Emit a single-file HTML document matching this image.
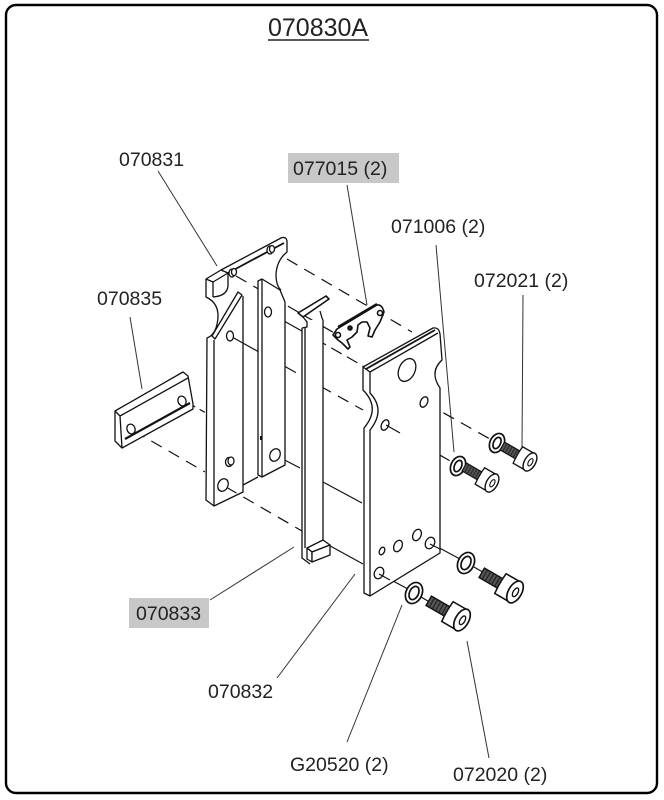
<!DOCTYPE html>
<html><head><meta charset="utf-8"><style>
html,body{margin:0;padding:0;background:#fff;}
svg{display:block;}
text{font-family:"Liberation Sans",Arial,sans-serif;fill:#222;}
</style></head><body>
<svg width="664" height="800" viewBox="0 0 664 800" xmlns="http://www.w3.org/2000/svg">
<rect x="6" y="5" width="651" height="788" rx="10" ry="10" fill="#fff" stroke="#000" stroke-width="2.4"/>

<!-- title -->
<text x="268" y="36" font-size="25">070830A</text>
<line x1="268" y1="40" x2="369" y2="40" stroke="#222" stroke-width="1.6"/>

<!-- label boxes -->
<rect x="288" y="153" width="111" height="30" fill="#c8c8c8"/>
<rect x="129" y="598" width="80" height="30" fill="#c8c8c8"/>

<!-- labels -->
<g font-size="19.5">
<text x="119" y="166">070831</text>
<text x="293" y="175">077015 (2)</text>
<text x="391" y="233">071006 (2)</text>
<text x="474" y="287">072021 (2)</text>
<text x="97" y="305">070835</text>
<text x="136" y="620">070833</text>
<text x="208" y="698">070832</text>
<text x="290" y="771">G20520 (2)</text>
<text x="453" y="781">072020 (2)</text>
</g>

<!-- leader lines -->
<g stroke="#333" stroke-width="1" fill="none">
<line x1="158" y1="171" x2="217" y2="266"/>
<line x1="347" y1="185" x2="367" y2="305"/>
<line x1="436" y1="245" x2="454" y2="452"/>
<line x1="523" y1="295" x2="522" y2="450"/>
<line x1="130" y1="317" x2="142" y2="389"/>
<line x1="210" y1="600" x2="294" y2="547"/>
<line x1="277" y1="678" x2="355" y2="574"/>
<line x1="347" y1="742" x2="402" y2="605"/>
<line x1="489" y1="758" x2="467" y2="641"/>
</g>

<!-- axis / dashed lines -->
<g stroke="#111" stroke-width="1.2" fill="none">
<line x1="287" y1="259" x2="412" y2="332" stroke-dasharray="12 8"/>
<line x1="236" y1="276" x2="336" y2="334" stroke-dasharray="12 8"/>
<line x1="232" y1="337" x2="268" y2="357"/>
<line x1="268" y1="357" x2="363" y2="410" stroke-dasharray="12 8"/>
<line x1="387" y1="425" x2="452" y2="462" stroke-dasharray="12 8"/>
<line x1="268" y1="312" x2="300" y2="330"/>
<line x1="300" y1="330" x2="363" y2="366" stroke-dasharray="12 6"/>
<line x1="426" y1="403" x2="490" y2="439" stroke-dasharray="12 8"/>
<line x1="134" y1="431" x2="205" y2="472" stroke-dasharray="12 8"/>
<line x1="226" y1="487" x2="302" y2="531" stroke-dasharray="12 8"/>
<line x1="323" y1="542" x2="363" y2="564"/>
<line x1="380" y1="574" x2="408" y2="589"/>
<line x1="277" y1="456" x2="300" y2="468"/>
<line x1="323" y1="482" x2="362" y2="503"/>
<line x1="432" y1="544" x2="460" y2="559"/>
<line x1="190" y1="404" x2="206" y2="413" stroke-dasharray="6 5"/>
<line x1="503" y1="446" x2="510" y2="450"/>
<line x1="464" y1="469" x2="472" y2="473"/>
<line x1="474" y1="567" x2="486" y2="574"/>
<line x1="421" y1="597" x2="433" y2="604"/>
</g>

<!-- 070835 bar -->
<g stroke="#111" stroke-width="1.3" fill="#fff" stroke-linejoin="round">
<path d="M115,411 L183,372 L188,376 L193,404 L193,409 L122,448 L115,441 Z"/>
<path d="M115,411 L120,416 L188,378 M120,416 L122,448" fill="none"/>
<path d="M125,439 L190,403" fill="none" stroke-width="2.2"/>
<ellipse cx="131" cy="429" rx="4" ry="5" transform="rotate(-20 131 429)"/>
<ellipse cx="182" cy="401" rx="4" ry="5" transform="rotate(-20 182 401)"/>
</g>

<!-- 070831 left frame -->
<g stroke="#111" stroke-width="1.3" fill="none" stroke-linejoin="round">
<path d="M206,279 L206,297 Q223,305 216,328 Q213,336 207,338 L206,500 L214,506 L243,492 L243,296"/>
<path d="M214,340 L214,506"/>
<path d="M206,279 L221,270 L228,273 L213,282 Z" fill="#fff"/>
<path d="M213,282 L213,297 M228,273 L228,286 Q227,296 213,297"/>
<path d="M221,270 L281,238 Q286,236 287,241 L287,252 Q277,260 276,274 Q276,286 281,290"/>
<path d="M228,273 L284,243" stroke-width="1.8"/>
<path d="M238,292 L242,295 L215,339 L212,336 Z"/>
<path d="M243,485 L258,477"/>
<path d="M258,281 L262,279 L280,290 L285,302 L285,465 L262,477 L258,475 Z" fill="#fff"/>
<path d="M262,279 L262,477"/>
<ellipse cx="230" cy="336" rx="3.5" ry="5" fill="#fff"/>
<ellipse cx="268" cy="312" rx="3.5" ry="5" fill="#fff"/>
<ellipse cx="275" cy="455" rx="5" ry="6.5" fill="#fff" transform="rotate(25 275 455)"/>
<ellipse cx="223" cy="485" rx="5" ry="6.5" fill="#fff" transform="rotate(25 223 485)"/>
<ellipse cx="229" cy="462" rx="3.5" ry="4.5" fill="#fff"/>
<ellipse cx="231" cy="461" rx="3" ry="4" fill="#fff"/>
<ellipse cx="232" cy="273" rx="3" ry="4" fill="#fff"/>
<ellipse cx="234" cy="272" rx="2.5" ry="3.5" fill="#fff"/>
<ellipse cx="270" cy="250" rx="3" ry="4" fill="#fff"/>
<ellipse cx="272" cy="249" rx="2.5" ry="3.5" fill="#fff"/>
<path d="M261,436 L261,440" stroke-width="2"/>
</g>

<!-- 070833 bar -->
<g stroke="#111" stroke-width="1.3" fill="#fff" stroke-linejoin="round">
<rect x="302" y="320" width="21" height="240" stroke="none"/>
<path d="M302,328 L302,558 L310,564 M305,328 L305,548 M323,320 L323,540" fill="none"/>
<path d="M298,313 L326,296 L329,299 L303,317 Z" stroke-width="1.6"/>
<path d="M303,317 L307,322 L307,327 L302,328 M320,311 L322,318 L323,320" fill="none"/>
<path d="M307,548 L323,540 L330,545 L312,552 Z"/>
<path d="M307,548 L312,552 L312,562 L307,559 Z"/>
<path d="M312,552 L330,545 L330,555 L312,562 Z"/>
</g>

<!-- 077015 -->
<g stroke="#111" stroke-width="1.6" fill="#fff" stroke-linejoin="round">
<path d="M333,335 L337,329 L377,305 Q382,304 384,312 L380,322 L375,330 L372,337 L368,336 L370,328 L367,322 L362,322 L358,325 L357,332 L352,337 L347,340 L350,347 L348,349 L342,343 L338,340 Z"/>
<path d="M338,327 L377,304" fill="none" stroke-width="2.4"/>
<circle cx="338" cy="335" r="2.5"/>
<circle cx="380" cy="313" r="2.5"/>
<circle cx="350" cy="328" r="2" fill="#222"/>
</g>

<!-- right plate 070832 -->
<g stroke="#111" stroke-width="1.3" fill="#fff" stroke-linejoin="round">
<path d="M363,367 L433,328 Q439,327 440,334 L442,360 Q429,372 440,388 L440,553 L370,596 L364,593 L364,428 Q381,408 363,390 Z"/>
<path d="M363,367 L370,372 L438,333 M370,372 L370,393 Q386,410 370,430 L370,596" fill="none"/>
<path d="M366,369 L435,330" fill="none" stroke-width="1.8"/>
<ellipse cx="407" cy="370" rx="8" ry="12" transform="rotate(25 407 370)"/>
<ellipse cx="424" cy="402" rx="3.5" ry="5.5" transform="rotate(25 424 402)"/>
<ellipse cx="385" cy="425" rx="3.5" ry="5.5" transform="rotate(25 385 425)"/>
<ellipse cx="417" cy="535" rx="4" ry="6" transform="rotate(25 417 535)"/>
<ellipse cx="398" cy="546" rx="4" ry="6" transform="rotate(25 398 546)"/>
<ellipse cx="382" cy="551" rx="2.5" ry="4" transform="rotate(25 382 551)"/>
<ellipse cx="430" cy="543" rx="4.5" ry="6" transform="rotate(25 430 543)"/>
<ellipse cx="379" cy="573" rx="4.5" ry="6" transform="rotate(25 379 573)"/>
</g>
<g stroke="#111" stroke-width="1.2" fill="none">
<line x1="386" y1="425" x2="400" y2="433"/>
<line x1="430" y1="544" x2="440" y2="549"/>
<line x1="379" y1="574" x2="390" y2="580"/>
</g>

<!-- washers -->
<g stroke="#111" stroke-width="1.7" fill="#fff">
<ellipse cx="497" cy="443" rx="7" ry="10" transform="rotate(25 497 443)"/>
<ellipse cx="497" cy="443" rx="3.5" ry="6" transform="rotate(25 497 443)"/>
<ellipse cx="458" cy="466" rx="7" ry="10" transform="rotate(25 458 466)"/>
<ellipse cx="458" cy="466" rx="3.5" ry="6" transform="rotate(25 458 466)"/>
<ellipse cx="466" cy="563" rx="8" ry="11" transform="rotate(25 466 563)"/>
<ellipse cx="466" cy="563" rx="4.5" ry="7" transform="rotate(25 466 563)"/>
<ellipse cx="414" cy="593" rx="8" ry="11" transform="rotate(25 414 593)"/>
<ellipse cx="414" cy="593" rx="4.5" ry="7" transform="rotate(25 414 593)"/>
</g>

<!-- screws -->
<defs>
<g id="scr">
<rect x="-32" y="-4.5" width="19" height="9" fill="#555" stroke="#111" stroke-width="1.2"/>
<path d="M-29,-4.5 L-29,4.5 M-26,-4.5 L-26,4.5 M-23,-4.5 L-23,4.5 M-20,-4.5 L-20,4.5 M-17,-4.5 L-17,4.5" stroke="#222" stroke-width="1"/>
<path d="M-14,-9.5 Q-15,0 -14,9.5 L0,9.5 L0,-9.5 Z" fill="#fff" stroke="#111" stroke-width="1.3"/>
<ellipse cx="0" cy="0" rx="5.5" ry="10" fill="#fff" stroke="#111" stroke-width="1.4"/>
<ellipse cx="0.5" cy="0" rx="2" ry="4" fill="#fff" stroke="#111" stroke-width="1.1"/>
</g>
</defs>
<use href="#scr" transform="translate(530,462) rotate(30)"/>
<use href="#scr" transform="translate(492,483) rotate(30)"/>
<use href="#scr" transform="translate(515,592) rotate(30) scale(1.2)"/>
<use href="#scr" transform="translate(462,620) rotate(30) scale(1.2)"/>
</svg>
</body></html>
